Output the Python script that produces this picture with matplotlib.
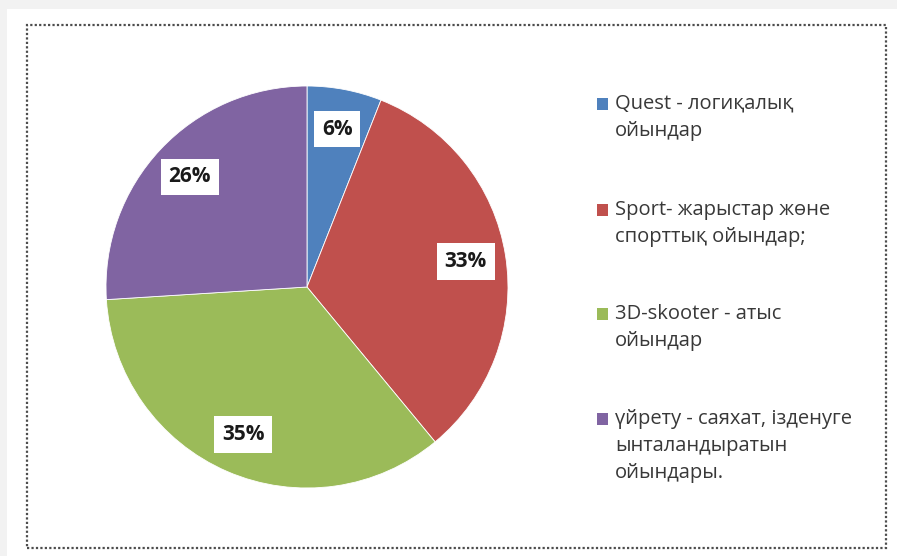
import matplotlib
matplotlib.use("Agg")
import matplotlib.pyplot as plt
from matplotlib.patches import Rectangle

categories = [
    "Quest - логиқалық\nойындар",
    "Sport- жарыстар жөне\nспорттық ойындар;",
    "3D-skooter - атыс\nойындар",
    "үйрету - саяхат, ізденуге\nынталандыратын\nойындары.",
]
values = [6, 33, 35, 26]
colors = ["#4f81bd", "#c0504d", "#9bbb59", "#8064a2"]

W, H = 897, 556
fig = plt.figure(figsize=(W / 100, H / 100), dpi=100)
fig.patch.set_facecolor("white")

def px(x, y, w, h):
    return [x / W, 1 - (y + h) / H, w / W, h / H]

# gray bands (top and left)
fig.patches.append(Rectangle((0, 1 - 9 / H), 1, 9 / H, transform=fig.transFigure,
                             facecolor="#f2f2f2", edgecolor="none", zorder=0))
fig.patches.append(Rectangle((0, 0), 7 / W, 1, transform=fig.transFigure,
                             facecolor="#f2f2f2", edgecolor="none", zorder=0))
# dotted frame
fx0, fy0, fx1, fy1 = 27, 25, 886, 548
fig.patches.append(Rectangle((fx0 / W, 1 - fy1 / H), (fx1 - fx0) / W, (fy1 - fy0) / H,
                             transform=fig.transFigure, facecolor="none",
                             edgecolor="#4d4d4d", linestyle=(0, (1, 1)), linewidth=1.6, zorder=1))

cx, cy, r = 307, 287, 201
ax = fig.add_axes(px(cx - r, cy - r, 2 * r, 2 * r))
wedges, texts, autotexts = ax.pie(
    values, colors=colors, startangle=90, counterclock=False, radius=1,
    autopct="%1.0f%%", pctdistance=0.8,
    wedgeprops=dict(edgecolor="white", linewidth=0.6),
    textprops=dict(fontfamily="Open Sans", fontweight="bold", fontsize=15, color="#1a1a1a"),
)
for t in autotexts:
    t.set_bbox(dict(boxstyle="square,pad=0.38", facecolor="white", edgecolor="none"))
ax.set_xlim(-1, 1)
ax.set_ylim(-1, 1)
ax.set_aspect("equal")
ax.axis("off")

# legend
first_lines = [104, 210, 314, 419]
line_gap = 27
for lab, col, y0 in zip(categories, colors, first_lines):
    fig.patches.append(Rectangle((597 / W, 1 - (y0 + 6) / H), 11 / W, 12 / H,
                                 transform=fig.transFigure, facecolor=col, edgecolor="none"))
    for i, line in enumerate(lab.split("\n")):
        fig.text(615 / W, 1 - (y0 + i * line_gap) / H, line, ha="left", va="center",
                 fontfamily="Open Sans", fontsize=14.5, color="#383838")

fig.savefig("out.png", dpi=100)
